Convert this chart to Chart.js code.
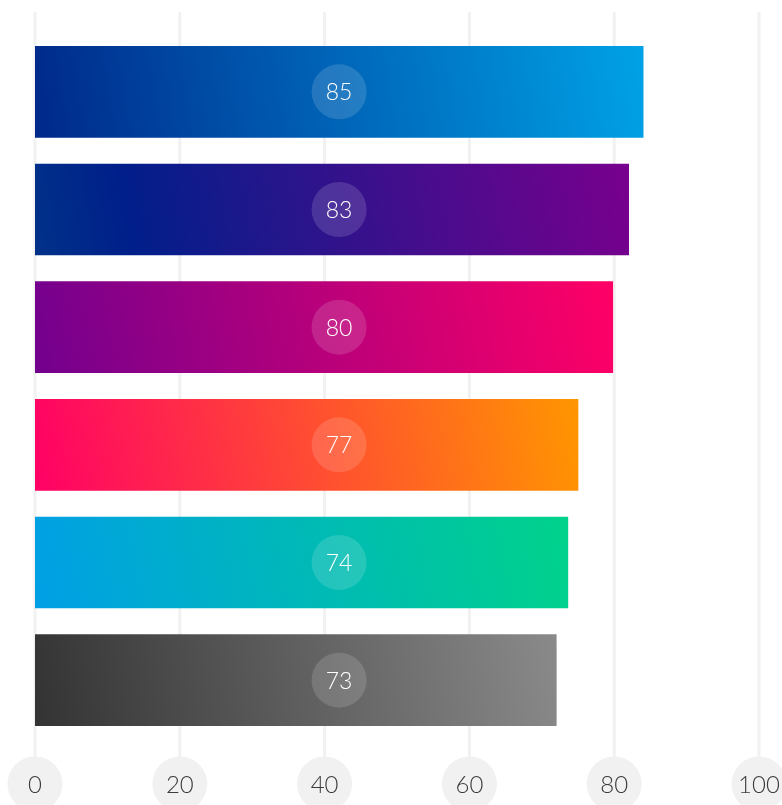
<!DOCTYPE html>
<html>
<head>
<meta charset="utf-8">
<script src="https://cdn.jsdelivr.net/npm/chart.js@4.4.1/dist/chart.umd.min.js"></script>
<style>
  html, body { margin: 0; padding: 0; background: #fff; }
  #wrap { width: 782px; height: 805px; position: relative; }
</style>
</head>
<body>
<div id="wrap"><canvas id="barChart"></canvas></div>
<script>
// data
const categories = ['A', 'B', 'C', 'D', 'E', 'F'];
const barValues = [84, 82, 79.8, 75, 73.6, 72];
const valueLabels = ['85', '83', '80', '77', '74', '73'];
const tickValues = [0, 20, 40, 60, 80, 100];

// gradient stops per bar (left -> right)
const barStops = [
    [[0, '#00288a'], [1, '#00a2e6']],
    [[0, '#003289'], [0.16, '#001f8a'], [1, '#78008e']],
    [[0, '#72008e'], [1, '#ff0066']],
    [[0, '#ff0066'], [1, '#ff9600']],
    [[0, '#009fe6'], [1, '#00d28a']],
    [[0, '#333333'], [1, '#8a8a8a']]
];

const LABEL_AT = 42;     // x value where the value badges sit
const FONT = 'Lato, "Open Sans", sans-serif';

function barGradient(c) {
    const chart = c.chart;
    const i = c.dataIndex;
    const fallback = barStops[i] ? barStops[i][0][1] : '#888';
    const xs = chart.scales.x, ys = chart.scales.y;
    if (!chart.chartArea || !xs || !ys) return fallback;
    const x0 = xs.getPixelForValue(0);
    const x1 = xs.getPixelForValue(barValues[i]);
    const yc = ys.getPixelForValue(i);
    if (![x0, x1, yc].every(Number.isFinite) || x1 === x0) return fallback;
    const g = chart.ctx.createLinearGradient(x0, yc + 50, x1, yc - 50);
    barStops[i].forEach(s => g.addColorStop(s[0], s[1]));
    return g;
}

const decor = {
    id: 'decor',
    beforeDraw(chart) {
        const { ctx, scales: { x } } = chart;
        ctx.save();
        ctx.strokeStyle = '#f1f1f1';
        ctx.lineWidth = 3;
        tickValues.forEach(v => {
            const px = x.getPixelForValue(v);
            ctx.beginPath();
            ctx.moveTo(px, 12);
            ctx.lineTo(px, 760);
            ctx.stroke();
        });
        ctx.fillStyle = '#f1f1f1';
        tickValues.forEach(v => {
            ctx.beginPath();
            ctx.arc(x.getPixelForValue(v), 784, 27.5, 0, Math.PI * 2);
            ctx.fill();
        });
        ctx.restore();
    },
    afterDatasetsDraw(chart) {
        const { ctx, scales: { x, y } } = chart;
        const cx = x.getPixelForValue(LABEL_AT);
        ctx.save();
        valueLabels.forEach((t, i) => {
            const cy = y.getPixelForValue(i);
            ctx.fillStyle = 'rgba(255,255,255,0.14)';
            ctx.beginPath();
            ctx.arc(cx, cy, 27.5, 0, Math.PI * 2);
            ctx.fill();
            ctx.fillStyle = '#ffffff';
            ctx.font = '300 23px ' + FONT;
            ctx.textAlign = 'center';
            ctx.textBaseline = 'middle';
            ctx.fillText(t, cx, cy + 1);
        });
        ctx.restore();
    }
};

document.addEventListener('DOMContentLoaded', () => {
    const ctx = document.getElementById('barChart').getContext('2d');
    new Chart(ctx, {
        type: 'bar',
        data: {
            labels: categories,
            datasets: [{
                data: barValues,
                backgroundColor: barGradient,
                borderWidth: 0,
                barThickness: 91
            }]
        },
        options: {
            indexAxis: 'y',
            responsive: true,
            maintainAspectRatio: false,
            animation: false,
            layout: { padding: { left: 35, right: 23, top: 33, bottom: 6 } },
            plugins: { legend: { display: false }, tooltip: { enabled: false } },
            scales: {
                x: {
                    min: 0, max: 100,
                    afterBuildTicks: s => { s.ticks = tickValues.map(v => ({ value: v })); },
                    afterFit: s => { s.height = 60; s.paddingLeft = 0; s.paddingRight = 0; },
                    grid: { display: false, drawTicks: false },
                    border: { display: false },
                    ticks: { color: '#3c3c3c', padding: 32, maxRotation: 0, font: { family: FONT, size: 24, weight: '300' } }
                },
                y: { display: false }
            }
        },
        plugins: [decor]
    });
});
</script>
</body>
</html>
